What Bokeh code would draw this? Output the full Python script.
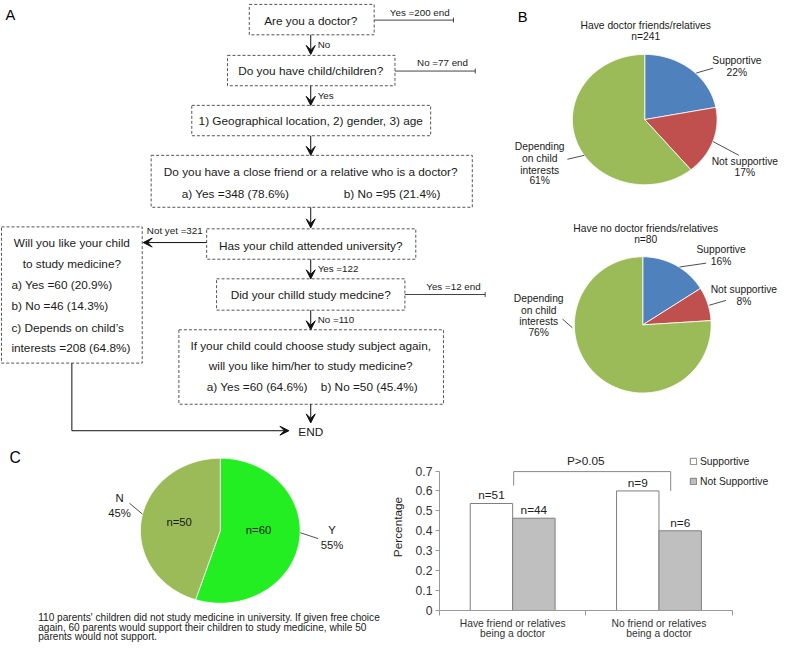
import math
from bokeh.plotting import figure
from bokeh.layouts import column, row
from bokeh.models import Range1d, Arrow, VeeHead, ColumnDataSource, FixedTicker, Legend, Title
from bokeh.core.properties import value
from bokeh.embed import file_html
from bokeh.resources import INLINE

# ---------------- data ----------------
b1_labels = ["Supportive", "Not supportive", "Depending on child interests"]
b1_pct = [22, 17, 61]
b1_n = 241
b2_pct = [16, 8, 76]
b2_n = 80
pie_colors = ["#4F81BD", "#C0504D", "#9BBB59"]

c_labels = ["Y", "N"]
c_counts = [60, 50]
c_pct = [55, 45]
c_colors = ["#22EE22", "#9BBB59"]

bar_groups = ["Have friend or relatives\nbeing a doctor", "No friend or relatives\nbeing a doctor"]
bar_series = ["Supportive", "Not Supportive"]
supportive = [0.537, 0.600]
not_supportive = [0.463, 0.400]
n_supportive = [51, 9]
n_not_supportive = [44, 6]
y_ticks = [0, 0.1, 0.2, 0.3, 0.4, 0.5, 0.6, 0.7]

FONT = value("Liberation Sans")
S = 0.98


def fs(px):
    return f"{px * S:.1f}px"


def blank(width, height, xr, yr):
    p = figure(width=width, height=height, x_range=Range1d(*xr), y_range=Range1d(*yr),
               output_backend="svg", toolbar_location=None, min_border=0,
               x_axis_location=None, y_axis_location=None)
    p.grid.visible = False
    p.outline_line_color = None
    return p


def txt(p, xs, ys, texts, size, align="center", color="#1a1a1a"):
    p.text(x=xs, y=ys, text=texts, text_align=align, text_baseline="middle",
           text_font=FONT, text_font_size=fs(size), text_color=color)


def ell_slices(cx, cy, rx, ry, pcts):
    xs_all, ys_all = [], []
    tot = float(sum(pcts))
    start = 0.0
    for v in pcts:
        f0, f1 = start, start + v / tot
        n = max(8, int(120 * (f1 - f0)))
        xs, ys = [cx], [cy]
        for i in range(n + 1):
            t = 2 * math.pi * (f0 + (f1 - f0) * i / n)
            xs.append(cx + rx * math.sin(t))
            ys.append(cy - ry * math.cos(t))
        xs_all.append(xs)
        ys_all.append(ys)
        start = f1
    return xs_all, ys_all

# ---------------- top: flowchart + pies B ----------------
p1 = blank(783, 441, (0, 790), (450, 0))

boxes = [(251, 4, 377, 35), (229, 56, 398, 87), (193, 107, 434, 138), (152, 158, 476, 211),
         (208, 233, 419, 264), (1, 231, 143, 370), (218, 284, 408, 316), (180, 336, 447, 412)]
p1.quad(left=[b[0] for b in boxes], right=[b[2] for b in boxes],
        top=[b[1] for b in boxes], bottom=[b[3] for b in boxes],
        fill_color=None, line_color="#555555", line_dash="3 2", line_width=1)

arr = ColumnDataSource(dict(
    x0=[313, 313, 313, 313, 313, 313, 313, 208, 72],
    y0=[35, 87, 138, 211, 264, 316, 412, 247, 439],
    x1=[313, 313, 313, 313, 313, 313, 313, 144, 291],
    y1=[55, 107, 158, 232, 284, 336, 431, 247, 439]))
p1.add_layout(Arrow(source=arr, x_start="x0", y_start="y0", x_end="x1", y_end="y1",
                    line_color="#111111", line_width=1,
                    end=VeeHead(size=9, fill_color="#111111", line_color="#111111")))
p1.line(x=[72, 72], y=[370, 439], line_color="#111111", line_width=1)

p1.segment(x0=[377, 398, 408], y0=[20, 72, 300], x1=[457, 479, 489], y1=[20, 72, 300],
           line_color="#444444", line_width=1)
p1.segment(x0=[457, 479, 489], y0=[17.5, 69.5, 297.5], x1=[457, 479, 489], y1=[22.5, 74.5, 302.5],
           line_color="#444444", line_width=1)

txt(p1, [313, 313, 313, 313, 237, 395, 313, 313, 313, 313, 259, 372, 313, 72, 72],
    [21, 72, 123, 175, 197, 197, 250, 301, 353, 373, 394, 394, 440, 247, 269],
    ["Are you a doctor?", "Do you have child/children?",
     "1) Geographical location, 2) gender, 3) age",
     "Do you have a close friend or a relative who is a doctor?",
     "a) Yes =348 (78.6%)", "b) No =95 (21.4%)",
     "Has your child attended university?", "Did your chilld study medcine?",
     "If your child could choose study subject again,",
     "will you like him/her to study medicine?",
     "a) Yes =60 (64.6%)", "b) No =50 (45.4%)", "END",
     "Will you like your child", "to study medicine?"], 12)
txt(p1, [11, 11, 11, 11], [290, 312, 334, 355],
    ["a) Yes =60 (20.9%)", "b) No =46 (14.3%)", "c) Depends on child\u2019s",
     "interests =208 (64.8%)"], 12, align="left")
txt(p1, [423, 446, 457], [12, 63, 292], ["Yes =200 end", "No =77 end", "Yes =12 end"], 10)
txt(p1, [320, 320, 320, 320], [45, 97, 273, 325], ["No", "Yes", "Yes =122", "No =110"], 10, align="left")
txt(p1, [204], [235], ["Not yet =321"], 10, align="right")

txt(p1, [5, 522], [15, 17], ["A", "B"], 15, align="left", color="#000000")

xs, ys = ell_slices(650, 121.5, 73, 66.5, b1_pct)
p1.patches(xs=xs, ys=ys, fill_color=pie_colors, line_color="white", line_width=0.8)
xs, ys = ell_slices(648, 331, 69, 69.5, b2_pct)
p1.patches(xs=xs, ys=ys, fill_color=pie_colors, line_color="white", line_width=0.8)

txt(p1, [651, 651, 651, 651], [26, 37, 233, 244],
    ["Have doctor friends/relatives", f"n={b1_n}",
     "Have no doctor friends/relatives", f"n={b2_n}"], 10.5)
txt(p1, [743, 743, 751, 751, 544, 544, 544, 544],
    [61, 73, 164, 176, 149, 161, 173, 184],
    ["Supportive", f"{b1_pct[0]}%", "Not supportive", f"{b1_pct[1]}%",
     "Depending", "on child", "interests", f"{b1_pct[2]}%"], 10.5)
txt(p1, [727, 727, 750, 750, 543, 543, 543, 543],
    [254, 266, 295, 307, 304, 316, 328, 339],
    ["Supportive", f"{b2_pct[0]}%", "Not supportive", f"{b2_pct[1]}%",
     "Depending", "on child", "interests", f"{b2_pct[2]}%"], 10.5)
p1.segment(x0=[702, 719, 572, 685, 715, 567], y0=[74, 144, 162, 272, 311, 325],
           x1=[719, 745, 589, 712, 732, 577], y1=[69, 158, 158, 268, 306, 334],
           line_color="#222222", line_width=0.8)

# ---------------- bottom-right: bar chart ----------------
BOT_TOP, BOT_BOTTOM = 2, 33   # borders shared with the pie C figure (row aligns frames)
pb = figure(width=396, height=202, x_range=Range1d(0, 2.351), y_range=Range1d(0, 0.838),
            output_backend="svg", toolbar_location=None,
            min_border_left=52, min_border_right=0, min_border_top=BOT_TOP,
            min_border_bottom=BOT_BOTTOM)
pb.grid.visible = False
pb.outline_line_color = None

centers = [i + 0.5 for i in range(len(bar_groups))]
x_sup = [c - 0.145 for c in centers]
x_not = [c + 0.145 for c in centers]
r1 = pb.vbar(x=x_sup, top=supportive, width=0.29, fill_color="white", line_color="#7f7f7f")
r2 = pb.vbar(x=x_not, top=not_supportive, width=0.29, fill_color="#BFBFBF", line_color="#7f7f7f")

pb.text(x=x_sup, y=supportive, text=[f"n={n}" for n in n_supportive], text_align="center",
        text_baseline="bottom", y_offset=-1, text_font=FONT, text_font_size=fs(12), text_color="#222222")
pb.text(x=x_not, y=not_supportive, text=[f"n={n}" for n in n_not_supportive], text_align="center",
        text_baseline="bottom", y_offset=-1, text_font=FONT, text_font_size=fs(12), text_color="#222222")

pb.line(x=[0.507, 0.507, 1.58, 1.58], y=[0.627, 0.697, 0.697, 0.600], line_color="#888888", line_width=1)
pb.text(x=[1.0], y=[0.749], text=["P>0.05"], text_align="center", text_baseline="middle",
        text_font=FONT, text_font_size=fs(12), text_color="#222222")

ya = pb.yaxis[0]
ya.ticker = FixedTicker(ticks=y_ticks)
ya.bounds = (0, 0.7)
ya.major_label_overrides = {0: "0"}
ya.axis_label = "Percentage"
ya.axis_label_text_font_style = "normal"
ya.axis_label_text_font = "Liberation Sans"
ya.axis_label_text_font_size = fs(12)
ya.axis_label_text_color = "#222222"
ya.axis_label_standoff = 8
ya.major_label_text_font = "Liberation Sans"
ya.major_label_text_font_size = fs(12.5)
ya.major_label_text_color = "#333333"
ya.major_label_standoff = 3
ya.axis_line_color = "#999999"
ya.major_tick_line_color = "#999999"
ya.major_tick_out = 4
ya.major_tick_in = 0
ya.minor_tick_line_color = None

xa = pb.xaxis[0]
xa.ticker = FixedTicker(ticks=centers, minor_ticks=[0, 1, 2])
xa.bounds = (0, 2)
xa.major_label_overrides = {c: g for c, g in zip(centers, bar_groups)}
xa.major_label_text_font = "Liberation Sans"
xa.major_label_text_font_size = fs(10.5)
xa.major_label_text_line_height = 0.95
xa.major_label_text_color = "#333333"
xa.major_label_standoff = 2
xa.major_tick_out = 0
xa.major_tick_in = 0
xa.axis_line_color = "#999999"
xa.major_tick_line_color = None
xa.minor_tick_line_color = "#999999"
xa.minor_tick_out = 5
xa.minor_tick_in = 0

leg = Legend(items=[(bar_series[0], [r1]), (bar_series[1], [r2])], location=(250, 122),
             glyph_width=8, glyph_height=8, label_height=14, spacing=6, padding=0, margin=0,
             label_standoff=3, label_text_font="Liberation Sans", label_text_font_size=fs(10.5),
             label_text_color="#222222", border_line_color=None, background_fill_alpha=0)
pb.add_layout(leg)

# ---------------- bottom-left: pie C (frame aligned with bar chart frame) ----------------
pC = blank(387, 202, (0, 390), (622.4, 452))
pC.title.visible = False
pC.min_border_top = BOT_TOP
pC.min_border_bottom = BOT_BOTTOM
xs, ys = ell_slices(221.5, 541, 80.5, 74, c_pct)
pC.patches(xs=xs, ys=ys, fill_color=c_colors, line_color="white", line_width=0.8)
txt(pC, [260, 180], [540, 532], [f"n={c_counts[0]}", f"n={c_counts[1]}"], 11.5)
txt(pC, [120, 120, 334, 334], [508, 523, 540, 556],
    [c_labels[1], f"{c_pct[1]}%", c_labels[0], f"{c_pct[0]}%"], 11.5)
pC.segment(x0=[130, 302], y0=[513, 543], x1=[143, 320], y1=[524, 549],
           line_color="#222222", line_width=0.8)
txt(pC, [9], [466], ["C"], 16, align="left", color="#000000")
caption = ["110 parents' children did not study medicine in university. If given free choice",
           "again, 60 parents would support their children to study medicine, while 50",
           "parents would not support."]
pC.add_layout(Title(text="\n".join(caption), align="left", offset=37.7, standoff=0,
                    text_font="Liberation Sans", text_font_size=fs(10.3),
                    text_font_style="normal", text_color="#1a1a1a",
                    text_line_height=0.88), "below")

layout = column(p1, row(pC, pb))
open("out.html", "w").write(file_html(layout, INLINE))
